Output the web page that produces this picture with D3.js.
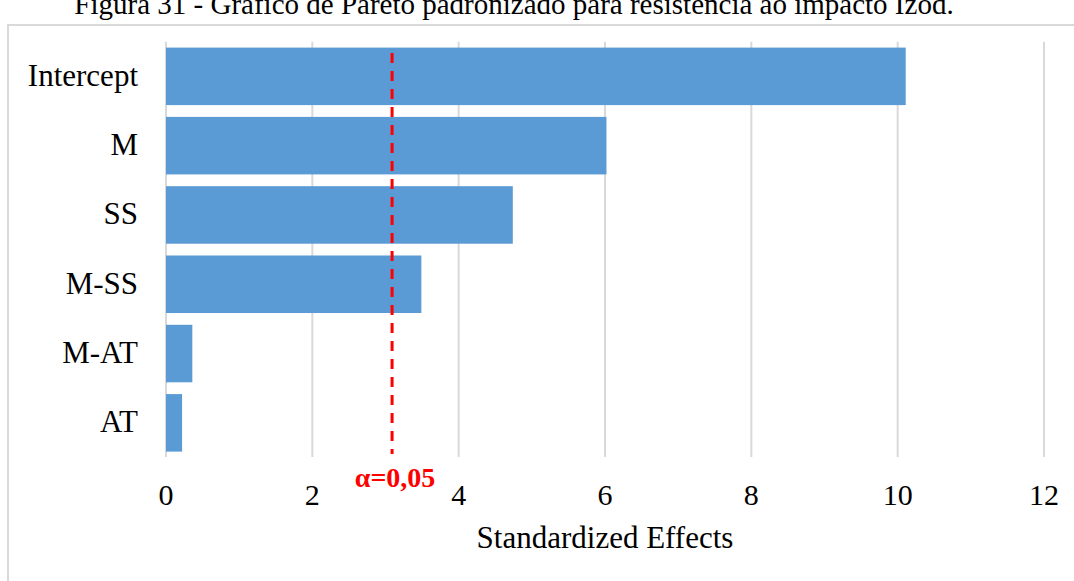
<!DOCTYPE html>
<html>
<head>
<meta charset="utf-8">
<script src="https://cdn.jsdelivr.net/npm/d3@7"></script>
<style>
  html, body { margin: 0; padding: 0; background: #fff; }
  svg { display: block; }
  text { font-family: "Liberation Serif", "Times New Roman", serif; }
</style>
</head>
<body>
<svg id="chart" width="1074" height="581"></svg>
<script>
const categories = ["Intercept", "M", "SS", "M-SS", "M-AT", "AT"];
const effects = [10.11, 6.02, 4.74, 3.49, 0.36, 0.22];
const xTicks = [0, 2, 4, 6, 8, 10, 12];
const alphaValue = 3.09;
const alphaLabel = "α=0,05";
const xTitle = "Standardized Effects";
const figTitle = "Figura 31 - Gráfico de Pareto padronizado para resistência ao impacto Izod.";

const svg = d3.select("#chart");

// caption (cropped at top, as in the reference)
svg.append("text")
  .attr("x", 514).attr("y", 14)
  .attr("text-anchor", "middle")
  .attr("font-size", 29)
  .attr("fill", "#000")
  .text(figTitle);

// chart border
svg.append("rect")
  .attr("x", 8).attr("y", 25)
  .attr("width", 1100).attr("height", 620)
  .attr("fill", "#fff")
  .attr("stroke", "#d9d9d9").attr("stroke-width", 2);

const x = d3.scaleLinear().domain([0, 12]).range([166, 1044]);
const y = d3.scaleBand().domain(categories).range([41.7, 457.5])
  .paddingInner(0.17).paddingOuter(0.085);

// gridlines
svg.append("g").selectAll("line").data(xTicks).join("line")
  .attr("x1", d => x(d)).attr("x2", d => x(d))
  .attr("y1", 41.7).attr("y2", 457)
  .attr("stroke", "#d9d9d9").attr("stroke-width", 2);

// bars
svg.append("g").selectAll("rect").data(categories).join("rect")
  .attr("x", x(0))
  .attr("y", d => y(d))
  .attr("width", (d, i) => x(effects[i]) - x(0))
  .attr("height", y.bandwidth())
  .attr("fill", "#5b9bd5");

// category labels
svg.append("g").selectAll("text").data(categories).join("text")
  .attr("x", 138)
  .attr("y", d => y(d) + y.bandwidth() / 2 + 9.5)
  .attr("text-anchor", "end")
  .attr("font-size", 31)
  .attr("fill", "#000")
  .text(d => d);

// x tick labels
svg.append("g").selectAll("text").data(xTicks).join("text")
  .attr("x", d => x(d))
  .attr("y", 505)
  .attr("text-anchor", "middle")
  .attr("font-size", 30)
  .attr("fill", "#000")
  .text(d => d);

// alpha line
svg.append("line")
  .attr("x1", x(alphaValue)).attr("x2", x(alphaValue))
  .attr("y1", 53).attr("y2", 454)
  .attr("stroke", "#ff0000").attr("stroke-width", 3)
  .attr("stroke-dasharray", "10,8");

svg.append("text")
  .attr("x", x(alphaValue) + 3).attr("y", 487)
  .attr("text-anchor", "middle")
  .attr("font-size", 28)
  .attr("font-weight", "bold")
  .attr("fill", "#ff0000")
  .text(alphaLabel);

// axis title
svg.append("text")
  .attr("x", (x(0) + x(12)) / 2).attr("y", 548)
  .attr("text-anchor", "middle")
  .attr("font-size", 31)
  .attr("fill", "#000")
  .text(xTitle);
</script>
</body>
</html>
